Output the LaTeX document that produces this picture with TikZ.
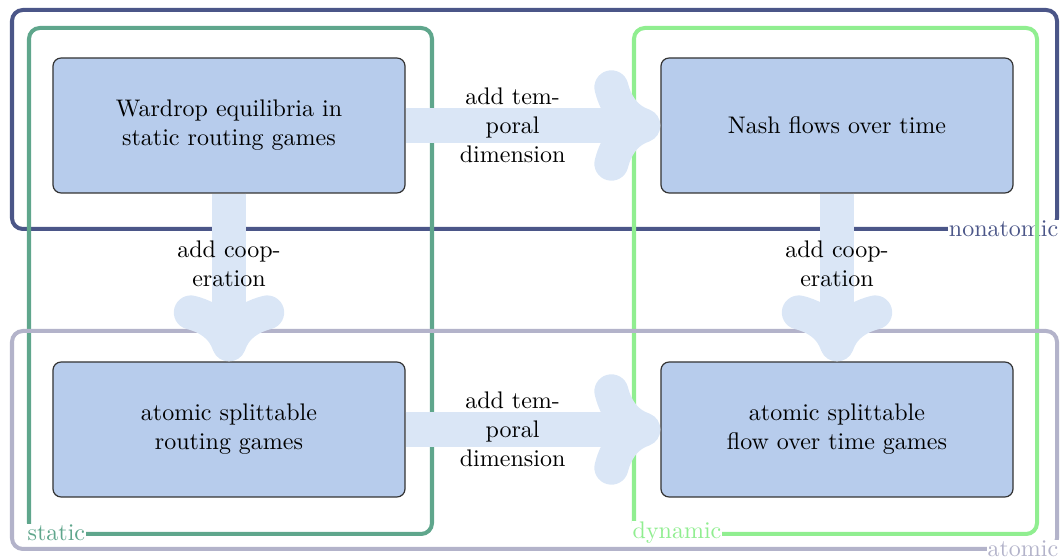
\documentclass[tikz,border=0pt]{standalone}
\usetikzlibrary{arrows.meta}
\definecolor{nonatomicc}{HTML}{4B5688}
\definecolor{staticc}{HTML}{5FA68C}
\definecolor{dynamicc}{HTML}{90EE90}
\definecolor{atomicc}{HTML}{B3B3CA}
\definecolor{boxfill}{HTML}{B7CCEC}
\definecolor{arrowc}{HTML}{DAE6F6}
\begin{document}
\begin{tikzpicture}[x=0.41667pt,y=-0.41667pt,
  frame/.style={line width=1.67pt, rounded corners=4.5pt},
  framelabel/.style={fill=white, inner sep=0.3pt},
  gamebox/.style={draw=black!80, fill=boxfill, rounded corners=3.4pt,
    minimum width=146.7pt, minimum height=56.25pt, align=center, line width=0.5pt},
  flow/.style={draw=arrowc, line width=14.2pt,
    -{To[length=27.5pt, width=46pt, line width=0pt 1, round]}},
  flowlabel/.style={align=center, pos=0.42}]
\useasboundingbox (0,0) rectangle (1061,558);
% regions
\draw[frame, nonatomicc] (12,10) rectangle (1057,229);
\node[framelabel, text=nonatomicc, anchor=east] (lnon) at (1059.5,229) {nonatomic};
\draw[frame, staticc] (29,28) rectangle (432,534);
\node[framelabel, text=staticc, anchor=west] (lsta) at (26.5,533) {static};
\draw[frame, dynamicc] (634,28) rectangle (1037,534);
\node[framelabel, text=dynamicc, anchor=west] (ldyn) at (631.5,533) {dynamic};
\draw[frame, atomicc] (12,331) rectangle (1057,549);
\node[framelabel, text=atomicc, anchor=east] (lato) at (1059.5,549) {atomic};
% game boxes
\node[gamebox] (wardrop) at (229,125.5) {Wardrop equilibria in\\static routing games};
\node[gamebox] (nash) at (837,125.5) {Nash flows over time};
\node[gamebox] (ass) at (229,429.5) {atomic splittable\\routing games};
\node[gamebox] (asfot) at (837,429.5) {atomic splittable\\flow over time games};
% arrows
\draw[flow] (wardrop) -- node[flowlabel] {add tem-\\poral\\dimension} (nash);
\draw[flow] (ass) -- node[flowlabel] {add tem-\\poral\\dimension} (asfot);
\draw[flow] (wardrop) -- node[flowlabel] {add coop-\\eration} (ass);
\draw[flow] (nash) -- node[flowlabel] {add coop-\\eration} (asfot);
\end{tikzpicture}
\end{document}
